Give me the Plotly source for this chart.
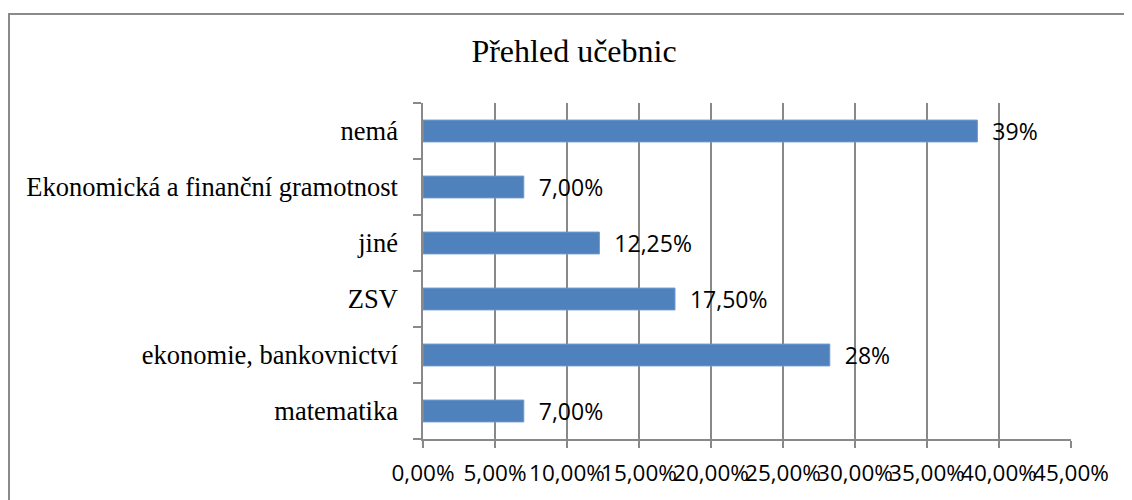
import plotly.graph_objects as go

categories = ["matematika", "ekonomie, bankovnictví", "ZSV", "jiné",
              "Ekonomická a finanční gramotnost", "nemá"]
values = [0.07, 0.2825, 0.175, 0.1225, 0.07, 0.385]
value_labels = ["7,00%", "28%", "17,50%", "12,25%", "7,00%", "39%"]
x_ticks = [0, 0.05, 0.10, 0.15, 0.20, 0.25, 0.30, 0.35, 0.40, 0.45]

# page has an 8px body margin; figure sized to fill the rest of the window
W, H = 1124, 492
L, R, T, B = 415, 61, 95, 59
pw, ph = W - L - R, H - T - B

grid = "#898989"

fig = go.Figure(go.Bar(
    y=categories, x=values, orientation="h",
    marker=dict(color="#4F81BD", line=dict(color="#7099cc", width=1)),
    text=["  " + t for t in value_labels],
    textposition="outside", cliponaxis=False, constraintext="none",
    textfont=dict(family="Open Sans", size=23, color="#000000"),
    width=0.39,
))

fig.update_layout(
    width=W, height=H,
    margin=dict(l=L, r=R, t=T, b=B),
    paper_bgcolor="white", plot_bgcolor="white",
    separators=", ",
    showlegend=False,
    title=dict(text="Přehled učebnic", x=(574 - 8) / W, xref="container", xanchor="center",
               y=1 - 43 / H, yref="container", yanchor="middle",
               font=dict(family="Liberation Serif", size=32, color="#000000")),
    xaxis=dict(range=[0, 0.45], tickvals=x_ticks, tickformat=".2%", tickangle=0,
               showgrid=True, gridcolor=grid, gridwidth=1.5,
               showline=True, linecolor=grid, linewidth=1.5,
               ticks="outside", ticklen=7, tickcolor=grid, tickwidth=1.5,
               ticklabelstandoff=6,
               tickfont=dict(family="Open Sans", size=22.5, color="#000000"),
               zeroline=False, fixedrange=True),
    yaxis=dict(showgrid=False, showline=True, linecolor=grid, linewidth=1.5,
               ticks="outside", ticklen=8, tickcolor=grid, tickwidth=1.5,
               tickson="boundaries", ticklabelstandoff=18,
               tickfont=dict(family="Liberation Serif", size=26.5, color="#000000"),
               fixedrange=True),
)

# outer chart border (top-left corner visible, the rest runs off the picture)
fig.add_shape(type="rect", xref="paper", yref="paper",
              x0=(1 - L) / pw, x1=(1140 - L) / pw,
              y0=((H - B) - 520) / ph, y1=((H - B) - 5.5) / ph,
              line=dict(color="#8a8a8a", width=2), fillcolor="rgba(0,0,0,0)", layer="below")

fig.write_html("out.html")
